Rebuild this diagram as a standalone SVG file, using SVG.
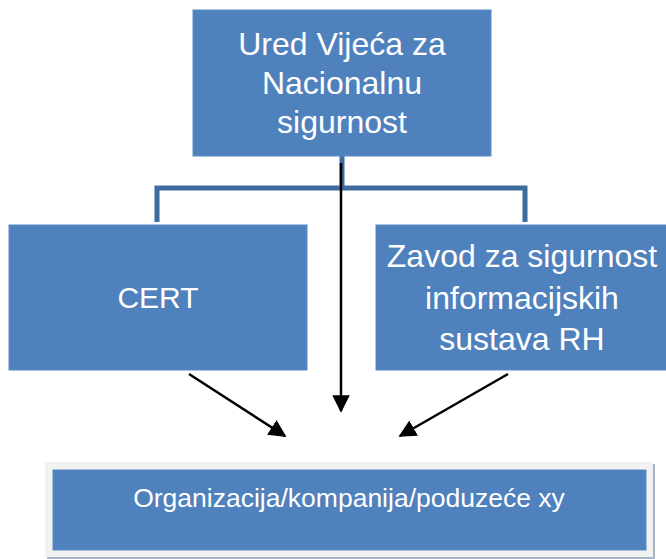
<svg xmlns="http://www.w3.org/2000/svg" width="666" height="559" viewBox="0 0 666 559">
<style>
.box{fill:#4F81BD;stroke:#5A8AC6;stroke-width:1}
.t{font-family:"Liberation Sans",Arial,sans-serif;fill:#FFFFFF;text-anchor:middle}
.big{font-size:32px}
.bracket{fill:none;stroke:#3F6C9E;stroke-width:5}
.arrow{stroke:#000;stroke-width:2.5;fill:none;marker-end:url(#ah)}
</style>
<defs>
<marker id="ah" viewBox="0 0 10 10" refX="9" refY="5" markerWidth="7" markerHeight="7" markerUnits="strokeWidth" orient="auto">
<path d="M0,0 L10,5 L0,10 Z" fill="#000"/>
</marker>
</defs>
<rect width="666" height="559" fill="#FFFFFF"/>
<g id="connectors">
<path class="bracket" d="M157,222 V188 H525 V222 M342,156 V188"/>
<line class="arrow" x1="341" y1="163" x2="341" y2="411"/>
<line class="arrow" x1="189" y1="374" x2="285" y2="436"/>
<line class="arrow" x1="508" y1="374" x2="400" y2="436"/>
</g>
<g id="ured">
<rect class="box" x="193" y="10" width="298" height="146"/>
<text class="t big" x="342" y="55">Ured Vijeća za</text>
<text class="t big" x="342" y="94">Nacionalnu</text>
<text class="t big" x="342" y="133">sigurnost</text>
</g>
<g id="cert">
<rect class="box" x="9" y="225" width="298" height="145"/>
<text class="t" font-size="30" x="158" y="308">CERT</text>
</g>
<g id="zavod">
<rect class="box" x="376" y="225" width="298" height="145"/>
<text class="t big" x="522" y="267">Zavod za sigurnost</text>
<text class="t big" x="522" y="309">informacijskih</text>
<text class="t big" x="522" y="350">sustava RH</text>
</g>
<g id="organizacija">
<rect x="47" y="464" width="608" height="95" fill="#A7B3C6"/>
<rect x="45" y="462" width="608" height="95" fill="#F2F2F2"/>
<rect class="box" x="53" y="470" width="593" height="80"/>
<text class="t" font-size="26.5" x="349" y="507">Organizacija/kompanija/poduzeće xy</text>
</g>
</svg>
